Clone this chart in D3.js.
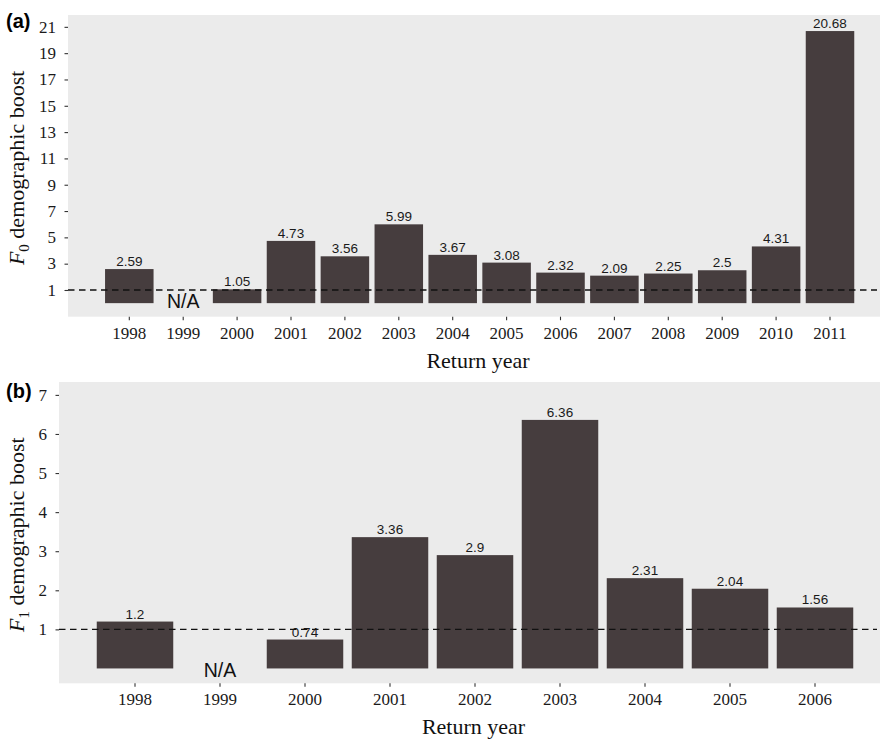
<!DOCTYPE html>
<html>
<head>
<meta charset="utf-8">
<script src="https://cdn.jsdelivr.net/npm/d3@7"></script>
<style>
  html, body { margin: 0; padding: 0; background: #ffffff; }
  svg { display: block; }
</style>
</head>
<body>
<svg id="chart" width="881" height="739"></svg>
<script>
// F0 boost by return year (panel a); null = not available
const yearsA = ["1998","1999","2000","2001","2002","2003","2004","2005","2006","2007","2008","2009","2010","2011"];
const boostF0 = [2.59, null, 1.05, 4.73, 3.56, 5.99, 3.67, 3.08, 2.32, 2.09, 2.25, 2.5, 4.31, 20.68];
const ticksA = [1, 3, 5, 7, 9, 11, 13, 15, 17, 19, 21];

// F1 boost by return year (panel b)
const yearsB = ["1998","1999","2000","2001","2002","2003","2004","2005","2006"];
const boostF1 = [1.2, null, 0.74, 3.36, 2.9, 6.36, 2.31, 2.04, 1.56];
const ticksB = [1, 2, 3, 4, 5, 6, 7];

const referenceLevel = 1;

const svg = d3.select("#chart");
const BAR = "#463d3e";
const PANEL_BG = "#ebebeb";
const SERIF = "Liberation Serif";
const SANS = "Liberation Sans";
const TICK_FONT = 17;

function drawPanel(opt) {
  const { tag, sub, cats, vals, ticks, yDomain, left, right, top, bottom, bandRange,
          tagY, titleX, naOffset } = opt;

  const x = d3.scaleBand().domain(cats).range(bandRange).paddingInner(0.1).paddingOuter(0.05);
  const y = d3.scaleLinear().domain(yDomain).range([bottom, top]);

  const g = svg.append("g");

  g.append("rect")
    .attr("x", left).attr("y", top)
    .attr("width", right - left).attr("height", bottom - top)
    .attr("fill", PANEL_BG);

  // bars
  const rows = cats.map((c, i) => ({ c, v: vals[i] }));
  g.selectAll("rect.bar")
    .data(rows.filter(d => d.v !== null))
    .join("rect")
    .attr("class", "bar")
    .attr("x", d => x(d.c))
    .attr("width", x.bandwidth())
    .attr("y", d => y(Math.max(0, d.v)))
    .attr("height", d => Math.abs(y(d.v) - y(0)))
    .attr("fill", BAR);

  // value labels
  g.selectAll("text.val")
    .data(rows.filter(d => d.v !== null))
    .join("text")
    .attr("class", "val")
    .attr("x", d => x(d.c) + x.bandwidth() / 2)
    .attr("y", d => y(d.v) - 3)
    .attr("text-anchor", "middle")
    .attr("font-family", SANS)
    .attr("font-size", 13.5)
    .attr("fill", "#1a1a1a")
    .text(d => d.v);

  // missing values
  g.selectAll("text.na")
    .data(rows.filter(d => d.v === null))
    .join("text")
    .attr("class", "na")
    .attr("x", d => x(d.c) + x.bandwidth() / 2)
    .attr("y", y(0) + naOffset)
    .attr("text-anchor", "middle")
    .attr("font-family", SANS)
    .attr("font-size", 19.5)
    .attr("fill", "#111")
    .text("N/A");

  // reference line
  g.append("line")
    .attr("x1", left).attr("x2", right - 3)
    .attr("y1", y(referenceLevel)).attr("y2", y(referenceLevel))
    .attr("stroke", "#111")
    .attr("stroke-width", 1.4)
    .attr("stroke-dasharray", "6.5,4.5");

  // y axis: tick marks from d3.axisLeft, labels set in serif
  const yAxis = g.append("g")
    .attr("transform", `translate(${left},0)`)
    .call(d3.axisLeft(y).tickValues(ticks).tickSize(3.5).tickFormat(() => ""));
  yAxis.select(".domain").remove();
  yAxis.selectAll("line").attr("stroke", "#333").attr("stroke-width", 1.1);
  g.selectAll("text.ytick")
    .data(ticks)
    .join("text")
    .attr("class", "ytick")
    .attr("x", left - 12)
    .attr("y", d => y(d))
    .attr("dy", "0.34em")
    .attr("text-anchor", "end")
    .attr("font-family", SERIF)
    .attr("font-size", TICK_FONT)
    .attr("fill", "#1a1a1a")
    .text(d => d);

  // x axis
  const xAxis = g.append("g")
    .attr("transform", `translate(0,${bottom})`)
    .call(d3.axisBottom(x).tickSize(3.5).tickFormat(() => ""));
  xAxis.select(".domain").remove();
  xAxis.selectAll("line").attr("stroke", "#333").attr("stroke-width", 1.1);
  g.selectAll("text.xtick")
    .data(cats)
    .join("text")
    .attr("class", "xtick")
    .attr("x", d => x(d) + x.bandwidth() / 2)
    .attr("y", bottom + 22)
    .attr("text-anchor", "middle")
    .attr("font-family", SERIF)
    .attr("font-size", TICK_FONT)
    .attr("fill", "#1a1a1a")
    .text(d => d);

  // axis titles
  g.append("text")
    .attr("x", (left + right) / 2 + 4)
    .attr("y", bottom + 51)
    .attr("text-anchor", "middle")
    .attr("font-family", SERIF)
    .attr("font-size", 22)
    .attr("fill", "#111")
    .text("Return year");

  const yt = g.append("text")
    .attr("transform", `translate(${titleX},${(top + bottom) / 2 + 2}) rotate(-90)`)
    .attr("text-anchor", "middle")
    .attr("font-family", SERIF)
    .attr("font-size", 22)
    .attr("fill", "#111");
  yt.append("tspan").attr("font-style", "italic").text("F");
  yt.append("tspan").attr("font-size", 15).attr("dy", 5).text(sub);
  yt.append("tspan").attr("dy", -5).text(" demographic boost");

  // panel tag
  g.append("text")
    .attr("x", 6).attr("y", tagY)
    .attr("font-family", SANS)
    .attr("font-weight", "bold")
    .attr("font-size", 20)
    .attr("fill", "#000")
    .text(tag);
}

drawPanel({
  tag: "(a)", sub: "0",
  cats: yearsA, vals: boostF0, ticks: ticksA,
  yDomain: [-1.03, 21.9],
  left: 68, right: 880, top: 15, bottom: 316.7,
  bandRange: [102.35, 102.35 + 14 * 53.9],
  tagY: 28, titleX: 24, naOffset: 5
});

drawPanel({
  tag: "(b)", sub: "1",
  cats: yearsB, vals: boostF1, ticks: ticksB,
  yDomain: [-0.38, 7.33],
  left: 59, right: 880, top: 382, bottom: 683.3,
  bandRange: [92.5, 92.5 + 9 * 85],
  tagY: 398, titleX: 24, naOffset: 9
});
</script>
</body>
</html>
